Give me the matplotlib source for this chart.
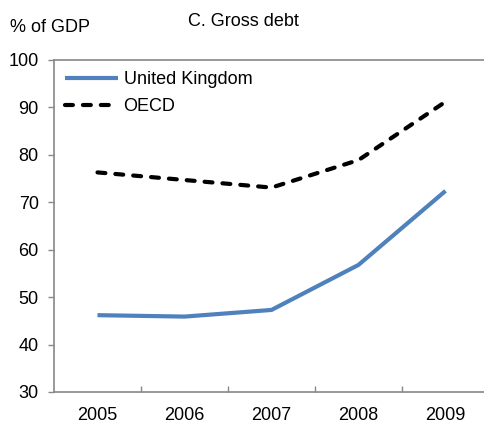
import matplotlib
matplotlib.use("Agg")
import matplotlib.pyplot as plt

years = ["2005", "2006", "2007", "2008", "2009"]
uk = [46.2, 45.9, 47.3, 56.8, 72.4]
oecd = [76.3, 74.7, 73.1, 78.9, 91.2]
y_ticks = [30, 40, 50, 60, 70, 80, 90, 100]

plt.rcParams["font.family"] = ["Liberation Sans", "DejaVu Sans"]
FS = 13

fig = plt.figure(figsize=(4.84, 4.24), dpi=100)
ax = fig.add_axes([54 / 484, (424 - 392) / 424, (489 - 54) / 484, (392 - 60) / 424])

x = list(range(len(years)))
ax.plot(x, uk, color="#4F81BD", lw=3.0, solid_capstyle="butt", label="United Kingdom")
ax.plot(x, oecd, color="black", lw=3.0, dashes=(1.9, 2.4), dash_capstyle="round",
        label="OECD")

ax.set_xlim(-0.5, len(years) - 0.5)
ax.set_ylim(30, 100)
ax.set_yticks(y_ticks)
ax.set_yticklabels([str(v) for v in y_ticks], fontsize=FS)
ax.set_xticks(x)
ax.set_xticklabels(years, fontsize=FS)
ax.tick_params(axis="x", length=0, pad=11)
ax.set_xticks([i + 0.5 for i in x[:-1]], minor=True)
ax.tick_params(axis="x", which="minor", direction="in", length=4, color="#888888", width=1)
ax.tick_params(axis="y", direction="out", length=4, color="#888888", width=1, pad=7)

for s in ax.spines.values():
    s.set_color("#888888")
    s.set_linewidth(1.2)

leg = ax.legend(loc="upper left", bbox_to_anchor=(0.0, 1.0), frameon=False,
                fontsize=FS, handlelength=2.95, handletextpad=0.3,
                labelspacing=0.58, borderaxespad=0.2)

fig.text(10 / 484, 1 - 27 / 424, "% of GDP", fontsize=FS, va="center", ha="left")
fig.text(243 / 484, 1 - 22 / 424, "C. Gross debt", fontsize=FS, va="center", ha="center")

fig.savefig("out.png", dpi=100)
